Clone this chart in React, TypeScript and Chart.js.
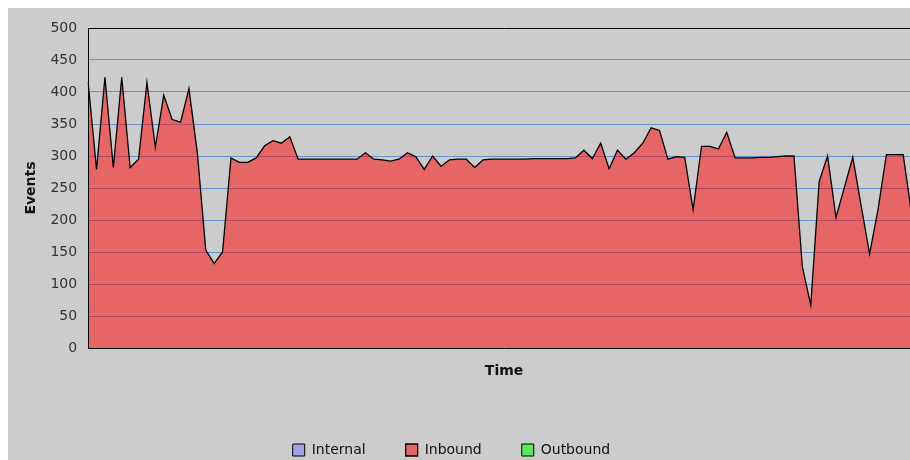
import React, { useEffect, useRef } from "react";
import { Chart, registerables } from "chart.js";

Chart.register(...registerables);

// Inbound events per time step
const inboundValues: number[] = [
  416, 279, 423, 282, 423, 282, 295, 415, 314, 395,
  357, 353, 405, 305, 153, 132, 150, 297, 290, 290,
  297, 316, 324, 320, 330, 295, 295, 295, 295, 295,
  295, 295, 295, 305, 295, 294, 292, 295, 305, 299,
  279, 300, 284, 294, 295, 295, 282, 294, 295, 295,
  295, 295, 295, 296, 296, 296, 296, 296, 297, 309,
  296, 320, 280, 309, 295, 305, 320, 344, 340, 295,
  299, 298, 216, 315, 315, 311, 337, 297, 297, 297,
  298, 298, 299, 300, 300, 127, 67, 260, 300, 204,
  251, 298, 222, 147, 216, 302, 302, 302, 210, 200,
];
const internalValues: number[] = [];
const outboundValues: number[] = [];

const timeLabels: string[] = inboundValues.map((_, i) => String(i + 1));
const seriesNames: string[] = ["Internal", "Inbound", "Outbound"];
const yMin = 0;
const yMax = 500;
const yStep = 50;
const xTitle = "Time";
const yTitle = "Events";

const FONT = "DejaVu Sans";

export default function App() {
  const ref = useRef<HTMLCanvasElement>(null);

  useEffect(() => {
    const canvas = ref.current;
    if (!canvas) return;

    const framePlugin = {
      id: "plotFrame",
      afterLayout(chart: any) {
        const lg = chart.legend;
        if (!lg || !lg.lineWidths) return;
        const p = lg.options.labels.padding;
        const start = (lg.left + p + lg.right - lg.lineWidths[0]) / 2;
        const dx = 284.7 - start;
        lg.left += dx;
        lg.right += dx;
      },
      afterDatasetsDraw(chart: any) {
        const { ctx, chartArea } = chart;
        const l = Math.round(chartArea.left) + 0.5;
        const t = Math.round(chartArea.top) + 0.5;
        const b = Math.round(chartArea.bottom) + 0.5;
        const r = Math.round(chartArea.right) + 0.5;
        ctx.save();
        ctx.strokeStyle = "#000";
        ctx.lineWidth = 1;
        ctx.beginPath();
        ctx.moveTo(r, t);
        ctx.lineTo(l, t);
        ctx.lineTo(l, b);
        ctx.lineTo(r, b);
        ctx.stroke();
        ctx.restore();
      },
    };

    const chart = new Chart(canvas, {
      type: "line",
      data: {
        labels: timeLabels,
        datasets: [
          {
            label: seriesNames[0],
            data: internalValues,
            borderColor: "#000",
            borderWidth: 1,
            backgroundColor: "rgba(128,128,255,0.55)",
            fill: "origin",
            pointRadius: 0,
          },
          {
            label: seriesNames[1],
            data: inboundValues,
            borderColor: "#000",
            borderWidth: 1.3,
            backgroundColor: "rgba(255,0,0,0.5)",
            fill: "origin",
            pointRadius: 0,
            tension: 0,
          },
          {
            label: seriesNames[2],
            data: outboundValues,
            borderColor: "#000",
            borderWidth: 1,
            backgroundColor: "rgba(0,255,0,0.55)",
            fill: "origin",
            pointRadius: 0,
          },
        ],
      },
      options: {
        responsive: false,
        animation: false,
        devicePixelRatio: 1,
        layout: { padding: { top: 20, left: 0, right: 0, bottom: 0 } },
        plugins: {
          legend: {
            display: true,
            position: "bottom",
            labels: {
              boxWidth: 12,
              boxHeight: 12,
              padding: 40,
              color: "#111",
              font: { family: FONT, size: 14 },
            },
          },
          tooltip: { enabled: false },
        },
        scales: {
          x: {
            type: "category",
            offset: false,
            grid: { display: false, drawTicks: false },
            border: { display: false },
            ticks: { display: false },
            title: {
              display: true,
              text: xTitle,
              color: "#111",
              font: { family: FONT, size: 14, weight: "bold" },
              padding: { top: 14.6, bottom: 23.6 },
            },
          },
          y: {
            min: yMin,
            max: yMax,
            grid: {
              color: "rgb(100,145,210)",
              lineWidth: 1,
              drawTicks: false,
            },
            border: { display: false },
            ticks: {
              stepSize: yStep,
              padding: 11,
              color: "#333",
              font: { family: FONT, size: 14 },
            },
            title: {
              display: true,
              text: yTitle,
              color: "#111",
              font: { family: FONT, size: 14, weight: "bold" },
              padding: { top: 14.6, bottom: 0 },
            },
          },
        },
      },
      plugins: [framePlugin],
    });

    return () => chart.destroy();
  }, []);

  return (
    <div
      style={{
        position: "fixed",
        left: 8,
        top: 8,
        width: 902,
        height: 452,
        overflow: "hidden",
        background: "rgb(204,204,204)",
      }}
    >
      <canvas
        ref={ref}
        width={912}
        height={459}
        style={{ display: "block", width: 912, height: 459 }}
      />
    </div>
  );
}
